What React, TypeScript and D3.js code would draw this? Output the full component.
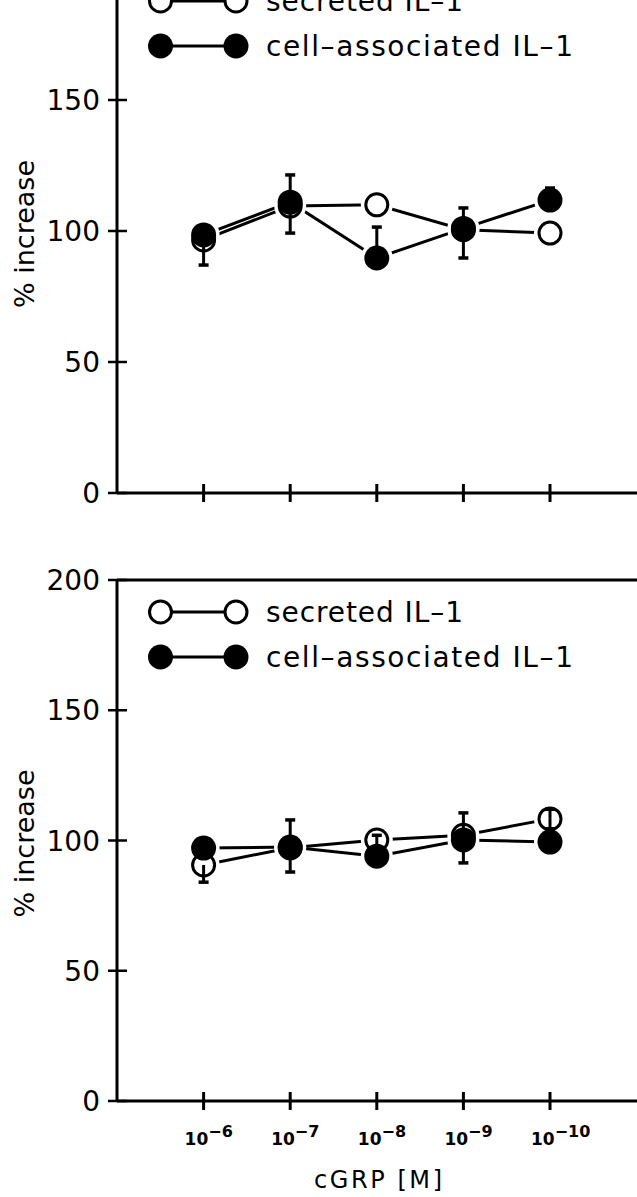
import React, { useRef, useEffect } from 'react';
import * as d3 from 'd3';

// cGRP concentration, as log10 exponent
const exponents = [-6, -7, -8, -9, -10];
const yTicks = [0, 50, 100, 150, 200];

// upper panel
const secretedA = [96.6, 109.5, 110, 100.5, 99.2];
const cellA = [98.5, 111, 89.7, 101, 111.8];
const secretedAHi = [null, 121.4, null, null, null];
const secretedALo = [87, 99.2, null, null, null];
const cellAHi = [null, null, 101.5, 108.8, 116.4];
const cellALo = [null, null, null, 89.7, null];

// lower panel
const secretedB = [90.6, 97.2, 100.2, 102, 108.3];
const cellB = [97.1, 97.5, 94, 100.2, 99.4];
const secretedBHi = [null, null, null, null, 112];
const secretedBLo = [84, null, null, null, 104.5];
const cellBHi = [null, 107.9, 102, 110.6, null];
const cellBLo = [null, 87.9, null, 91.4, null];

const FONT = "'DejaVu Sans', sans-serif";

export default function App() {
  const ref = useRef<SVGSVGElement>(null);

  useEffect(() => {
    const svg = d3.select(ref.current);
    svg.selectAll('*').remove();

    const x = d3.scaleLinear().domain([-5, -10]).range([117, 550]);

    const panels = [
      {
        y: d3.scaleLinear().domain([0, 200]).range([493, -31]),
        sec: secretedA, cell: cellA,
        secHi: secretedAHi, secLo: secretedALo, cellHi: cellAHi, cellLo: cellALo,
        xLabels: false,
      },
      {
        y: d3.scaleLinear().domain([0, 200]).range([1101, 580]),
        sec: secretedB, cell: cellB,
        secHi: secretedBHi, secLo: secretedBLo, cellHi: cellBHi, cellLo: cellBLo,
        xLabels: true,
      },
    ];

    panels.forEach(p => {
      const g = svg.append('g');
      const y = p.y;
      const x0 = x(-5);

      // axes + frame top
      g.append('line')
        .attr('x1', x0).attr('x2', x0)
        .attr('y1', y(0)).attr('y2', y(200))
        .attr('stroke', '#000').attr('stroke-width', 3);
      g.append('line')
        .attr('x1', x0).attr('x2', 660)
        .attr('y1', y(0)).attr('y2', y(0))
        .attr('stroke', '#000').attr('stroke-width', 3);
      g.append('line')
        .attr('x1', x0).attr('x2', 660)
        .attr('y1', y(200)).attr('y2', y(200))
        .attr('stroke', '#000').attr('stroke-width', 3);

      // y ticks
      yTicks.forEach(t => {
        g.append('line')
          .attr('x1', x0 - 9).attr('x2', x0 + 10)
          .attr('y1', y(t)).attr('y2', y(t))
          .attr('stroke', '#000').attr('stroke-width', 2.5);
        g.append('text')
          .attr('x', 100).attr('y', y(t)).attr('dy', '0.36em')
          .attr('text-anchor', 'end')
          .style('font-family', FONT).style('font-size', '28px')
          .text(t);
      });

      // x ticks
      exponents.forEach(e => {
        g.append('line')
          .attr('x1', x(e)).attr('x2', x(e))
          .attr('y1', y(0) - 9).attr('y2', y(0) + 9)
          .attr('stroke', '#000').attr('stroke-width', 3);
        if (p.xLabels) {
          const t = g.append('text')
            .attr('x', x(e) - 19).attr('y', y(0) + 44)
            .style('font-family', FONT).style('font-weight', 'bold');
          t.append('tspan').style('font-size', '17px').text('10');
          t.append('tspan').style('font-size', '16px').attr('dy', -8).text(`\u2212${-e}`);
        }
      });

      // y title
      g.append('text')
        .attr('transform', `translate(34,${y(100) + 3}) rotate(-90)`)
        .attr('text-anchor', 'middle')
        .style('font-family', FONT).style('font-size', '27px')
        .text('% increase');

      // connecting lines
      const line = d3.line<number>().x((d, i) => x(exponents[i])).y(d => y(d));
      [p.sec, p.cell].forEach(s => {
        g.append('path').attr('d', line(s))
          .attr('fill', 'none').attr('stroke', '#000').attr('stroke-width', 3);
      });

      // white gaps round the markers
      [...p.sec, ...p.cell].forEach((v, i) => {
        g.append('circle')
          .attr('cx', x(exponents[i % 5])).attr('cy', y(v)).attr('r', 16)
          .attr('fill', '#fff');
      });

      p.sec.forEach((v, i) => {
        g.append('circle')
          .attr('cx', x(exponents[i])).attr('cy', y(v)).attr('r', 11)
          .attr('fill', '#fff').attr('stroke', '#000').attr('stroke-width', 3);
      });
      p.cell.forEach((v, i) => {
        g.append('circle')
          .attr('cx', x(exponents[i])).attr('cy', y(v)).attr('r', 12.5)
          .attr('fill', '#000');
      });

      // error bars
      const bars = (vals, ends) => {
        ends.forEach((end, i) => {
          if (end == null) return;
          const cx = x(exponents[i]);
          g.append('line')
            .attr('x1', cx).attr('x2', cx)
            .attr('y1', y(vals[i])).attr('y2', y(end))
            .attr('stroke', '#000').attr('stroke-width', 3);
          g.append('line')
            .attr('x1', cx - 5).attr('x2', cx + 5)
            .attr('y1', y(end)).attr('y2', y(end))
            .attr('stroke', '#000').attr('stroke-width', 3.5);
        });
      };
      bars(p.sec, p.secHi);
      bars(p.sec, p.secLo);
      bars(p.cell, p.cellHi);
      bars(p.cell, p.cellLo);

      // legend
      const legend = [
        { label: 'secreted IL\u20131', filled: false, dy: 32, len: 197 },
        { label: 'cell\u2013associated IL\u20131', filled: true, dy: 77, len: 307 },
      ];
      legend.forEach(l => {
        const ly = y(200) + l.dy;
        g.append('line')
          .attr('x1', 170).attr('x2', 226)
          .attr('y1', ly).attr('y2', ly)
          .attr('stroke', '#000').attr('stroke-width', 3);
        [160.5, 236].forEach(cx => {
          g.append('circle')
            .attr('cx', cx).attr('cy', ly).attr('r', l.filled ? 12.5 : 11)
            .attr('fill', l.filled ? '#000' : '#fff')
            .attr('stroke', l.filled ? 'none' : '#000')
            .attr('stroke-width', 3);
        });
        g.append('text')
          .attr('x', 266).attr('y', ly).attr('dy', '0.36em')
          .attr('textLength', l.len).attr('lengthAdjust', 'spacing')
          .style('font-family', FONT).style('font-size', '28px')
          .text(l.label);
      });

      if (p.xLabels) {
        g.append('text')
          .attr('x', 378).attr('y', 1188)
          .attr('text-anchor', 'middle')
          .attr('textLength', 128).attr('lengthAdjust', 'spacing')
          .style('font-family', FONT).style('font-size', '24px')
          .text('cGRP [M]');
      }
    });
  }, []);

  return (
    <svg
      ref={ref}
      width={637}
      height={1197}
      style={{ position: 'absolute', left: 0, top: 0, background: '#fff' }}
    />
  );
}
